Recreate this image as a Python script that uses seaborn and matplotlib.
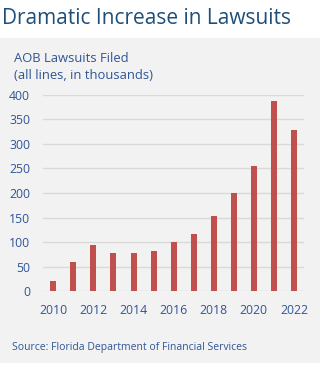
import matplotlib
matplotlib.use("Agg")
import matplotlib.pyplot as plt
import seaborn as sns
import pandas as pd
from matplotlib.patches import Rectangle

years = [2010, 2011, 2012, 2013, 2014, 2015, 2016, 2017, 2018, 2019, 2020, 2021, 2022]
lawsuits = [21, 59, 94, 78, 77, 81, 100, 116, 153, 200, 254, 388, 329]
x_tick_labels = ["2010", "", "2012", "", "2014", "", "2016", "", "2018", "", "2020", "", "2022"]
y_ticks = [0, 50, 100, 150, 200, 250, 300, 350, 400]

sns.set_theme(style="white")
plt.rcParams['font.family'] = ['Open Sans', 'DejaVu Sans']

df = pd.DataFrame({"year": [str(y) for y in years], "value": lawsuits})

fig = plt.figure(figsize=(3.22, 3.70), dpi=100)
fig.patch.set_facecolor("white")
panel = Rectangle((0, 7.3 / 370), 320 / 322, (363 - 38) / 370,
                  transform=fig.transFigure, facecolor="#f2f2f2",
                  edgecolor="none", zorder=-5)
fig.add_artist(panel)

ax = fig.add_axes([0.1345, 0.2127, 0.944 - 0.1345, 0.744 - 0.2127])
ax.set_zorder(1)
ax.set_facecolor("none")
sns.barplot(data=df, x="year", y="value", color="#c0504d", width=0.3,
            saturation=1, linewidth=0, ax=ax, zorder=3)
ax.set_ylim(0, 400)
ax.set_xlim(-0.5, len(years) - 0.5)
ax.set_yticks(y_ticks)
ax.set_xticks(range(len(years)))
ax.set_xticklabels(x_tick_labels)
ax.yaxis.grid(True, color="#d9d9d9", linewidth=1.0, zorder=0)
ax.xaxis.grid(False)
for s in ax.spines.values():
    s.set_visible(False)
ax.set_xlabel("")
ax.set_ylabel("")
tick_color = "#2f5597"
ax.tick_params(axis="both", length=0, labelsize=8.8, labelcolor=tick_color)
ax.tick_params(axis="y", pad=9.5)
ax.tick_params(axis="x", pad=9)

fig.text(2 / 322, 1 - 24 / 370, "Dramatic Increase in Lawsuits", fontsize=15,
         color="#1f4e79", ha="left", va="baseline")
fig.text(14 / 322, 1 - 62 / 370, "AOB Lawsuits Filed", fontsize=9.4,
         color=tick_color, ha="left", va="baseline")
fig.text(14 / 322, 1 - 79 / 370, "(all lines, in thousands)", fontsize=9.4,
         color=tick_color, ha="left", va="baseline")
fig.text(12 / 322, 1 - 350 / 370, "Source: Florida Department of Financial Services",
         fontsize=7.5, color=tick_color, ha="left", va="baseline")

fig.savefig("out.png", dpi=100, facecolor=fig.get_facecolor())
